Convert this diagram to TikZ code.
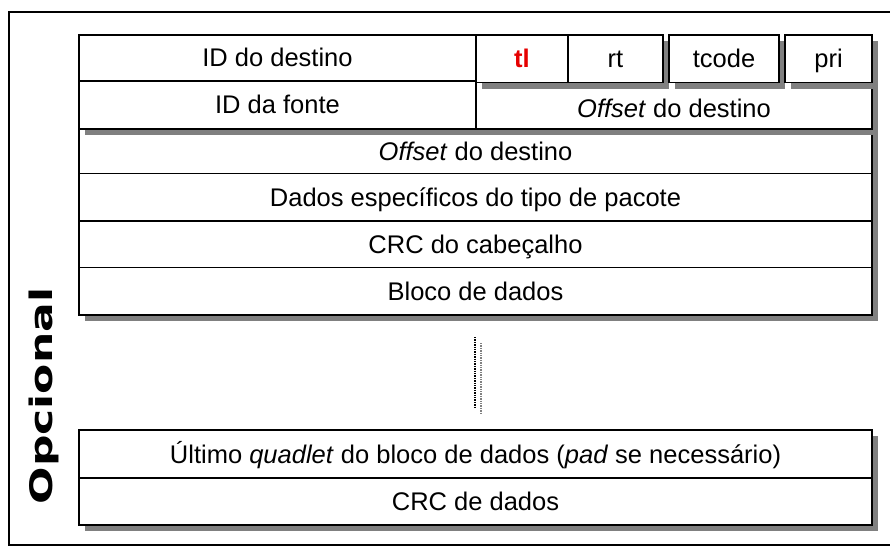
\documentclass[tikz,border=0pt]{standalone}
\usepackage{fontspec}
\setmainfont{Liberation Sans}
\newfontfamily\heavyfont{DejaVu Sans}
\usetikzlibrary{shadows}
\definecolor{shadowgray}{RGB}{128,128,128}
\definecolor{tlred}{RGB}{230,0,0}
\newcommand{\cellsize}{\fontsize{25.5}{30}\selectfont}
\tikzset{
  cell/.style={draw, line width=1.2pt, fill=white, inner sep=0pt, outer sep=0pt,
    anchor=north west, font=\cellsize, text height=21.5pt, text depth=3.5pt,
    drop shadow={shadow xshift=6pt, shadow yshift=-6pt, opacity=1, fill=shadowgray}},
  frameline/.style={line width=1.1pt},
  dotline/.style={line width=1.3pt, dash pattern=on 1.3pt off 1.1pt},
}
\begin{document}
\begin{tikzpicture}[x=1pt,y=-1pt]
\useasboundingbox (0,0) rectangle (890,548);
% outer frame
\draw[frameline] (895,12) -- (9,12) -- (9,545) -- (895,545);
% optional label
\node[rotate=90, inner sep=0pt] (opc) at (43.5,396)
  {\heavyfont\bfseries\fontsize{31}{31}\selectfont\scalebox{1.42}[1]{Opcional}};
% rows 3-6
\node[cell, minimum width=793pt, minimum height=44.3pt] (r3) at (79,129) {\textit{Offset} do destino};
\node[cell, minimum width=793pt, minimum height=47.7pt] (r4) at (79,173.3) {Dados específicos do tipo de pacote};
\node[cell, minimum width=793pt, minimum height=46.3pt] (r5) at (79,221) {CRC do cabeçalho};
\node[cell, minimum width=793pt, minimum height=47.7pt] (r6) at (79,267.3) {Bloco de dados};
% row 1 (first cell) and row 2
\node[cell, minimum width=397pt, minimum height=46pt] (iddest) at (79,35) {ID do destino};
\node[cell, minimum width=397pt, minimum height=48pt] (idfonte) at (79,81) {ID da fonte};
\node[cell, minimum width=396pt, minimum height=46.3pt] (offdest) at (476,82.7) {};
\node[font=\cellsize, text height=21.5pt, text depth=3.5pt, inner sep=0pt] (offtxt) at ([yshift=-3pt]offdest.center) {\textit{Offset} do destino};
% small cells of row 1
\node[cell, minimum width=92pt, minimum height=47.7pt] (tl) at (476,35) {\textcolor{tlred}{\bfseries tl}};
\node[cell, minimum width=95pt, minimum height=47.7pt] (rt) at (568,35) {rt};
\node[cell, minimum width=110pt, minimum height=47.7pt] (tcode) at (669,35) {tcode};
\node[cell, minimum width=87pt, minimum height=47.7pt] (pri) at (785,35) {pri};
% ellipsis dotted line
\coordinate (dsa) at (481,343);
\coordinate (dsb) at (481,413);
\coordinate (da) at (475,337);
\coordinate (db) at (475,407);
\draw[dotline, shadowgray] (dsa) -- (dsb);
\draw[dotline, black] (da) -- (db);
% bottom group
\node[cell, minimum width=793pt, minimum height=48pt] (last) at (79,430) {Último \textit{quadlet} do bloco de dados (\textit{pad} se necessário)};
\node[cell, minimum width=793pt, minimum height=47pt] (crcd) at (79,478) {CRC de dados};
\end{tikzpicture}
\end{document}
